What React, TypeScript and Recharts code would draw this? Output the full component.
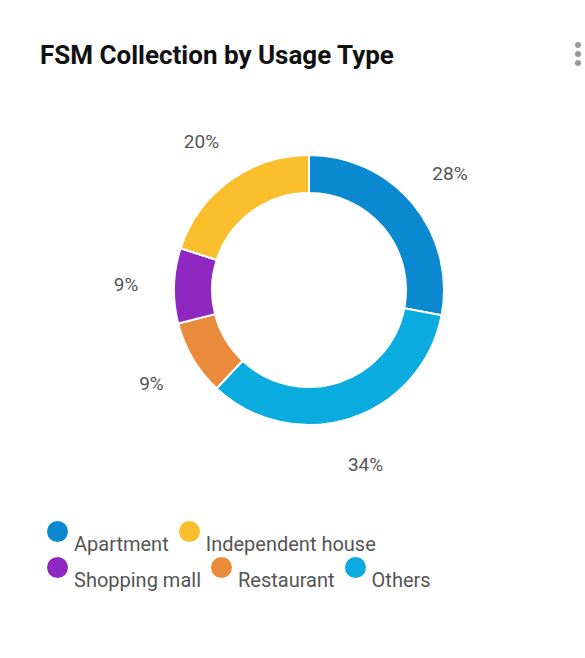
import { PieChart, Pie, Cell } from "recharts"

const slices = ["Apartment", "Others", "Restaurant", "Shopping mall", "Independent house"]
const values = [28, 34, 9, 9, 20]
const sliceColors = ["#0a88d0", "#0aabdf", "#e98b3a", "#8e28c0", "#fbbf2d"]

const legendRows = [
  [
    { name: "Apartment", color: "#0a88d0" },
    { name: "Independent house", color: "#fbbf2d" },
  ],
  [
    { name: "Shopping mall", color: "#8e28c0" },
    { name: "Restaurant", color: "#e98b3a" },
    { name: "Others", color: "#0aabdf" },
  ],
]

const data = slices.map((name, i) => ({ name, value: values[i] }))
const RAD = Math.PI / 180

function renderLabel({ cx, cy, midAngle, outerRadius, value }: any) {
  const r = outerRadius + 48
  const x = cx + r * Math.cos(-midAngle * RAD)
  const y = cy + r * Math.sin(-midAngle * RAD)
  return (
    <text x={x} y={y} fill="#555" fontSize={19} textAnchor="middle" dominantBaseline="central">
      {value}%
    </text>
  )
}

export default function App() {
  return (
    <div style={{ position: "absolute", left: 0, top: 0, width: 585, height: 658, background: "#fff", fontFamily: "Roboto, sans-serif" }}>
      <div style={{ position: "absolute", left: 40, top: 40, fontSize: 26, fontWeight: 700, color: "#111" }}>
        FSM Collection by Usage Type
      </div>
      <div style={{ position: "absolute", left: 575, top: 42, display: "flex", flexDirection: "column", gap: 3 }}>
        {[0, 1, 2].map((i) => (
          <div key={i} style={{ width: 6, height: 6, borderRadius: 3, background: "#999" }} />
        ))}
      </div>
      <div style={{ position: "absolute", left: 0, top: 90 }}>
        <PieChart width={585} height={390}>
          <Pie
            data={data}
            dataKey="value"
            cx={304}
            cy={195}
            innerRadius={97}
            outerRadius={135}
            startAngle={90}
            endAngle={-270}
            stroke="#fff"
            strokeWidth={2}
            label={renderLabel}
            labelLine={false}
            isAnimationActive={false}
          >
            {data.map((d, i) => (
              <Cell key={d.name} fill={sliceColors[i]} />
            ))}
          </Pie>
        </PieChart>
      </div>
      <div style={{ position: "absolute", left: 47, top: 521, fontSize: 20, color: "#555" }}>
        {legendRows.map((row, ri) => (
          <div key={ri} style={{ display: "flex", height: 36 }}>
            {row.map((it) => (
              <div key={it.name} style={{ display: "flex", marginRight: 10 }}>
                <div style={{ width: 21, height: 21, borderRadius: 11, background: it.color, marginRight: 6 }} />
                <span style={{ marginTop: 11 }}>{it.name}</span>
              </div>
            ))}
          </div>
        ))}
      </div>
    </div>
  )
}
